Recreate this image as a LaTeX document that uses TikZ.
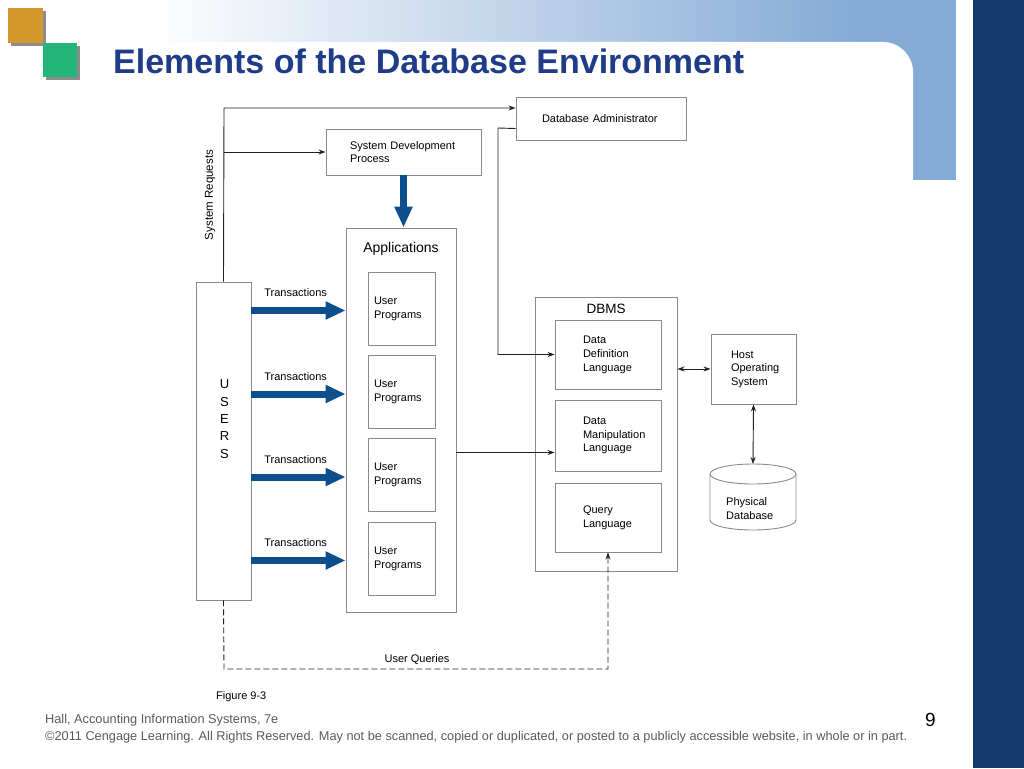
\documentclass[tikz,border=0pt]{standalone}
\usepackage{fontspec}
\setmainfont{Liberation Sans}
\usetikzlibrary{arrows.meta,calc}
\definecolor{bandblue}{HTML}{84AAD6}
\definecolor{navy}{HTML}{143A6C}
\definecolor{titleblue}{HTML}{1F3C88}
\definecolor{arrowblue}{HTML}{0C4F8C}
\definecolor{boxgray}{HTML}{8A8A8A}
\definecolor{linegray}{HTML}{202020}
\definecolor{sqorange}{HTML}{D6962E}
\definecolor{sqgreen}{HTML}{22B67A}
\definecolor{sqshadow}{HTML}{8C8C8C}
\definecolor{footgray}{HTML}{5A5A5A}
\newcommand\fsz[2]{\fontsize{#1}{#2}\selectfont}
\begin{document}
\begin{tikzpicture}[x=1pt,y=-1pt,
  bx/.style={draw=boxgray, line width=0.9pt, fill=white, inner ysep=0pt, align=left, font=\fsz{11}{13.5}},
  txt/.style={inner sep=0pt, font=\fsz{11}{13.5}},
  ar/.style={draw=linegray, line width=0.9pt, -{Stealth[length=7pt,width=5pt]}},
  dar/.style={draw=linegray, line width=0.9pt, {Stealth[length=7pt,width=5pt]}-{Stealth[length=7pt,width=5pt]}},
  bl/.style={draw=arrowblue, line width=7pt, -{Triangle[length=20pt,width=17pt]}},
  bigbl/.style={draw=arrowblue, line width=6.5pt, -{Triangle[length=21pt,width=17pt]}},
  foot/.style={anchor=base west, inner sep=0pt, text=footgray, font=\fsz{12.75}{14}}
]
\useasboundingbox (0,0) rectangle (1024,768);
% background
\fill[white] (0,0) rectangle (1024,768);
\shade[left color=white, right color=bandblue] (150,0) rectangle (860,42);
\fill[bandblue] (860,0) rectangle (956,180);
\fill[white, rounded corners=30pt] (0,42) rectangle (913,800);
\fill[white] (0,42) rectangle (60,120);
\fill[navy] (973,0) rectangle (1024,768);
% squares
\fill[sqshadow] (11,11) rectangle (46,46);
\fill[sqorange] (8,8) rectangle (43,43);
\fill[sqshadow] (46,46) rectangle (80,80);
\fill[sqgreen] (43,43) rectangle (77,77);
% title
\node[anchor=base west, inner sep=0pt, text=titleblue, font=\bfseries\fsz{34}{36}] (title) at (113,73) {Elements of the Database Environment};

% boxes
\node[bx, text width=118pt, inner xsep=26pt, minimum height=43pt] (dba) at (601,118.5) {Database Administrator};
\node[bx, text width=107pt, inner xsep=24pt, minimum height=46pt] (sdp) at (403.5,152) {System Development\\Process};
\node[bx, minimum width=55pt, minimum height=318pt] (users) at (223.5,441) {};
\node[txt, align=center, font=\fsz{13}{17.3}] (userstxt) at (224.5,419) {U\\S\\E\\R\\S};
\node[bx, minimum width=110pt, minimum height=384pt] (apps) at (401,420) {};
\node[txt, font=\fsz{14}{16}] (appstxt) at (401,249) {Applications};
\foreach \i/\y in {1/308.5,2/392,3/475,4/558.5}{
  \node[bx, text width=55pt, inner xsep=6pt, minimum height=73pt, font=\fsz{11}{14}] (up\i) at (401.5,\y) {User\\Programs};
}
\node[bx, minimum width=142pt, minimum height=274pt] (dbms) at (606,434) {};
\node[txt, font=\fsz{13.5}{16}] (dbmstxt) at (606,309) {DBMS};
\node[bx, text width=50pt, inner xsep=28pt, minimum height=69pt, font=\fsz{11}{14}] (ddl) at (608,354.5) {Data\\Definition\\Language};
\node[bx, text width=50pt, inner xsep=28pt, minimum height=71pt, font=\fsz{11}{13.5}] (dml) at (608,435.5) {Data\\Manipulation\\Language};
\node[bx, text width=50pt, inner xsep=28pt, minimum height=69pt, font=\fsz{11}{14}] (ql) at (608,517.5) {Query\\Language};
\node[bx, text width=45pt, inner xsep=20pt, minimum height=70pt, font=\fsz{11}{13.5}] (host) at (753.5,369) {Host\\Operating\\System};
% cylinder
\fill[white] (710,474) -- (710,520) arc[start angle=180,end angle=360,x radius=43pt,y radius=10pt] -- (796,474) -- cycle;
\draw[boxgray, line width=0.9pt] (710,474) -- (710,520) arc[start angle=180,end angle=360,x radius=43pt,y radius=10pt] -- (796,474);
\draw[boxgray, line width=0.9pt, fill=white] (753,474) ellipse[x radius=43pt, y radius=10pt];
\coordinate (cyltop) at (753,464);
\node[txt, align=left, anchor=west, font=\fsz{11}{14}] (cyltxt) at (726,509) {Physical\\Database};

% system requests
\coordinate (srtop) at (224,108);
\draw[ar] (users.north) -- (srtop) -- (dba.west |- srtop);
\draw[ar] (users.north |- sdp) -- (sdp.west);
\node[txt, rotate=90, font=\fsz{11.5}{13}] (srtxt) at (210,195) {System Requests};
% dba to ddl
\coordinate (dbaout) at ([yshift=-10pt]dba.west);
\coordinate (dbacorner) at (498,128);
\draw[ar] (dbaout) -- (dbacorner) -- (dbacorner |- ddl.west) -- (ddl.west);
% sdp to applications
\draw[bigbl] (sdp.south) -- (sdp.south |- apps.north);
% transactions
\foreach \i in {1,2,3,4}{
  \draw[bl] ([yshift=-2pt]users.east |- up\i) -- node[txt, above=10pt, pos=0.47] (tr\i) {Transactions} ([yshift=-2pt]apps.west |- up\i);
}
% apps to dml
\coordinate (dmlin) at ([yshift=-17pt]dml.west);
\draw[ar] (apps.east |- dmlin) -- (dmlin);
% dbms to host
\draw[dar] (dbms.east |- host.west) -- (host.west);
\draw[dar] (host.south) -- (cyltop);
% user queries
\coordinate (uqy) at (224,669);
\draw[ar, dash pattern=on 6pt off 3pt] (users.south) -- (uqy) -- (ql.south |- uqy) -- (ql.south);
\node[txt] (uqtxt) at (417,660) {User Queries};

% captions
\node[anchor=base west, inner sep=0pt, font=\fsz{11}{13}] (fig) at (216,699) {Figure 9-3};
\node[foot] (foot1) at (45,723) {Hall, Accounting Information Systems, 7e};
\node[foot] (foot2) at (45,740) {©2011 Cengage Learning. All Rights Reserved. May not be scanned, copied or duplicated, or posted to a publicly accessible website, in whole or in part.};
\node[anchor=base west, inner sep=0pt, text=black, font=\fsz{19}{21}] (pnum) at (925,726) {9};
\end{tikzpicture}
\end{document}
